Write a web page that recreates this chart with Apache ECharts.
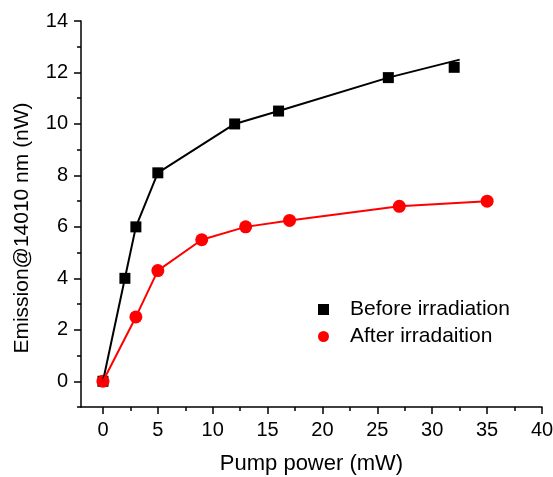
<!DOCTYPE html>
<html>
<head>
<meta charset="utf-8">
<script src="https://cdn.jsdelivr.net/npm/echarts@6/dist/echarts.min.js"></script>
<style>
  html, body { margin: 0; padding: 0; background: #fff; }
  #chart { width: 553px; height: 477px; }
</style>
</head>
<body>
<div id="chart"></div>
<script>
// measured points
const powerBefore = [0, 2, 3, 5, 12, 16, 26, 32];
const emissionBefore = [0, 4, 6, 8.1, 10, 10.5, 11.8, 12.2];
const powerAfter = [0, 3, 5, 9, 13, 17, 27, 35];
const emissionAfter = [0, 2.5, 4.3, 5.5, 6.0, 6.25, 6.8, 7.0];

// black guide line (ends above the last square)
const lineBeforeX = [0, 2, 3, 5, 12, 16, 26, 32.5];
const lineBeforeY = [0, 4, 6, 8.1, 10, 10.5, 11.8, 12.5];

// axes
const xTicks = [0, 5, 10, 15, 20, 25, 30, 35, 40];
const xMinorTicks = [2.5, 7.5, 12.5, 17.5, 22.5, 27.5, 32.5, 37.5];
const yTicks = [0, 2, 4, 6, 8, 10, 12, 14];
const yMinorTicks = [-1, 1, 3, 5, 7, 9, 11, 13];

const font = 'Liberation Sans, Arial, sans-serif';
const zip = (xs, ys) => xs.map((x, i) => [x, ys[i]]);

const chart = echarts.init(document.getElementById('chart'));

// second axis that only draws the short minor ticks
function minorAxis(min, max, ticks, position) {
    return {
        type: 'value', min: min, max: max, position: position,
        axisLine: { show: false, onZero: false },
        axisLabel: { show: false },
        splitLine: { show: false },
        axisTick: { show: true, inside: false, length: 4, customValues: ticks,
                    lineStyle: { color: '#000', width: 1.5 } }
    };
}

chart.setOption({
    animation: false,
    backgroundColor: '#fff',
    grid: { left: 81, right: 11, top: 21, bottom: 70, outerBoundsMode: 'none', containLabel: false },
    legend: {
        orient: 'vertical',
        left: 313, top: 294,
        itemWidth: 11, itemHeight: 11,
        itemGap: 6,
        data: ['Before irradiation', 'After irradaition'],
        textStyle: { fontFamily: font, fontSize: 21, color: '#000', padding: [0, 0, 0, 16] }
    },
    xAxis: [{
        type: 'value', min: -2, max: 40, position: 'bottom',
        name: 'Pump power (mW)', nameLocation: 'middle', nameGap: 46,
        nameTextStyle: { fontFamily: font, fontSize: 22, color: '#000' },
        axisLine: { onZero: false, lineStyle: { color: '#000', width: 1.5 } },
        axisTick: { length: 7, customValues: xTicks, lineStyle: { color: '#000', width: 1.5 } },
        axisLabel: { customValues: xTicks, margin: 13, fontFamily: font, fontSize: 20, color: '#000' },
        splitLine: { show: false }
    }, minorAxis(-2, 40, xMinorTicks, 'bottom')],
    yAxis: [{
        type: 'value', min: -1, max: 14, position: 'left',
        name: 'Emission@14010 nm (nW)', nameLocation: 'middle', nameGap: 48,
        nameTextStyle: { fontFamily: font, fontSize: 21, color: '#000', padding: [0, 28, 0, 0] },
        axisLine: { onZero: false, lineStyle: { color: '#000', width: 1.5 } },
        axisTick: { length: 7, customValues: yTicks, lineStyle: { color: '#000', width: 1.5 } },
        axisLabel: { customValues: yTicks, margin: 13, fontFamily: font, fontSize: 20, color: '#000' },
        splitLine: { show: false }
    }, minorAxis(-1, 14, yMinorTicks, 'left')],
    series: [
        {
            type: 'line', name: 'fitBefore', data: zip(lineBeforeX, lineBeforeY),
            showSymbol: false, silent: true,
            lineStyle: { color: '#000', width: 2 }
        },
        {
            type: 'scatter', name: 'Before irradiation', data: zip(powerBefore, emissionBefore),
            symbol: 'rect', symbolSize: 11,
            itemStyle: { color: '#000', opacity: 1 }
        },
        {
            type: 'line', name: 'lineAfter', data: zip(powerAfter, emissionAfter),
            showSymbol: false, silent: true,
            lineStyle: { color: '#ff0000', width: 2 }
        },
        {
            type: 'scatter', name: 'After irradaition', data: zip(powerAfter, emissionAfter),
            symbol: 'circle', symbolSize: 13,
            itemStyle: { color: '#ff0000', opacity: 1 }
        }
    ]
});
</script>
</body>
</html>
